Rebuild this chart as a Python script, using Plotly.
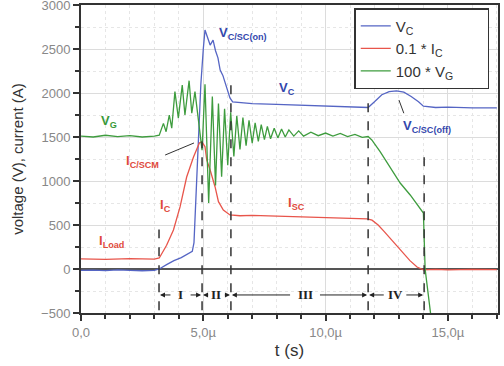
import plotly.graph_objects as go

# ---- data (time in microseconds) ----
t_vc = [0, 0.5, 1.0, 1.5, 2.0, 2.5, 3.0, 3.2, 3.5, 3.8, 4.1, 4.4, 4.55, 4.62, 4.7, 4.8, 4.9, 5.0, 5.07,
        5.15, 5.28, 5.4, 5.5, 5.6, 5.69, 5.8, 5.9, 6.0, 6.09, 6.2, 6.5, 7, 8, 9, 10, 11, 11.74,
        12.0, 12.3, 12.6, 12.9, 13.2, 13.5, 13.8, 14.0, 14.5, 15, 16, 17]
vc = [-15, -12, -18, -10, -15, -20, -15, 0, 50, 95, 130, 175, 200, 300, 800, 1500, 2100, 2500, 2716,
      2650, 2545, 2600, 2480, 2400, 2260, 2200, 2110, 2000, 1945, 1900, 1890, 1880, 1870, 1860, 1850, 1845, 1835,
      1900, 1980, 2015, 2025, 2010, 1960, 1900, 1850, 1835, 1840, 1830, 1832]

t_ic = [0, 1, 2, 3, 3.2, 3.5, 3.78, 4.05, 4.32, 4.6, 4.84, 4.94, 5.07, 5.14, 5.28, 5.48, 5.62, 5.82, 6.09,
        6.5, 7, 8, 9, 10, 11, 11.7, 11.9, 12.15, 12.4, 12.64, 12.9, 13.17, 13.45, 13.74, 14.0, 14.5, 15, 16, 17]
ic = [115, 110, 118, 112, 125, 270, 443, 705, 1045, 1273, 1432, 1447, 1390, 1240, 1125, 935, 765, 670, 614,
      605, 610, 600, 595, 585, 575, 570, 555, 500, 425, 352, 265, 182, 95, 23, -10, -5, -10, -5, -8]

t_vg = [0, 0.5, 1, 1.5, 2, 2.5, 3.0, 3.2, 3.37, 3.48, 3.61, 3.71, 3.84, 3.98, 4.14, 4.25, 4.42, 4.53, 4.66,
        4.95, 5.07, 5.22, 5.37, 5.5, 5.62, 5.75, 5.87, 6.0, 6.12, 6.25, 6.37, 6.5, 6.62, 6.75, 6.87, 7.0,
        7.12, 7.25, 7.37, 7.5, 7.62, 7.75, 7.9, 8.05, 8.2, 8.35, 8.5, 8.7, 8.9, 9.1, 9.4, 9.7, 10, 10.3,
        10.6, 10.9, 11.2, 11.5, 11.74, 11.89, 12.23, 12.64, 13.05, 13.46, 13.87, 14.0, 14.07, 14.3]
vg = [1510, 1500, 1520, 1505, 1515, 1500, 1510, 1520, 1655, 1560, 1750, 1600, 2015, 1715, 2090, 1750, 2140, 1770, 2015,
      1350, 2100, 750, 1960, 950, 1880, 1050, 1820, 1180, 1780, 1280, 1740, 1360, 1720, 1400, 1690, 1430,
      1660, 1450, 1640, 1470, 1620, 1480, 1600, 1490, 1590, 1500, 1580, 1510, 1570, 1510, 1555, 1515, 1545, 1510,
      1540, 1505, 1530, 1495, 1505, 1466, 1333, 1148, 977, 841, 693, 636, 0, -520]

phase_bounds = [3.19, 4.95, 6.13, 11.74, 14.03]
phase_tops = [450, 1450, 2150, 1950, 1330]
phase_names = ["I", "II", "III", "IV"]
phase_label_x = [4.07, 5.54, 9.16, 12.84]
phase_label_halfwidth = [0.35, 0.28, 0.55, 0.4]

BLUE = "#5565c4"
RED = "#e8554b"
GREEN = "#3e9c3e"
BLUE_T = "#3347ad"
RED_T = "#e04a3c"
GREEN_T = "#3a9a3a"
PAD = "\u00a0" * 7

fig = go.Figure()
fig.add_trace(go.Scatter(x=t_vc, y=vc, mode="lines", line=dict(color=BLUE, width=1.3), name="V<sub>C</sub>"))
fig.add_trace(go.Scatter(x=t_ic, y=ic, mode="lines", line=dict(color=RED, width=1.3), name="0.1 * I<sub>C</sub>"))
fig.add_trace(go.Scatter(x=t_vg, y=vg, mode="lines", line=dict(color=GREEN, width=1.3),
                         name="100 * V<sub>G</sub>" + PAD))

shapes = []
for xb, top in zip(phase_bounds, phase_tops):
    shapes.append(dict(type="line", xref="x", yref="y", x0=xb, x1=xb, y0=-470, y1=top,
                       line=dict(color="#333", width=1.5, dash="dash")))
# connector lines
shapes.append(dict(type="line", xref="x", yref="y", x0=3.44, y0=1295, x1=4.62, y1=1432,
                   line=dict(color="#333", width=1)))
shapes.append(dict(type="line", xref="x", yref="y", x0=13.0, y0=1920, x1=13.2, y1=1770,
                   line=dict(color="#333", width=1)))

anns = []
arrow_y = -295
for i, name in enumerate(phase_names):
    xc = phase_label_x[i]
    hw = phase_label_halfwidth[i]
    anns.append(dict(x=xc, y=arrow_y, xref="x", yref="y", text="<b>%s</b>" % name, showarrow=False,
                     font=dict(family="Liberation Serif, Times New Roman, serif", size=13, color="#222")))
    left = phase_bounds[i]
    right = phase_bounds[i + 1]
    anns.append(dict(x=left + 0.04, y=arrow_y, ax=xc - hw, ay=arrow_y, xref="x", yref="y", axref="x", ayref="y",
                     text="", showarrow=True, arrowhead=2, arrowsize=1, arrowwidth=1, arrowcolor="#222"))
    anns.append(dict(x=right - 0.04, y=arrow_y, ax=xc + hw, ay=arrow_y, xref="x", yref="y", axref="x", ayref="y",
                     text="", showarrow=True, arrowhead=2, arrowsize=1, arrowwidth=1, arrowcolor="#222"))

def lab(x, y, text, color, anchor="left"):
    anns.append(dict(x=x, y=y, xref="x", yref="y", text="<b>%s</b>" % text, showarrow=False, xanchor=anchor,
                     font=dict(family="Liberation Sans, Arial, sans-serif", size=13, color=color)))

lab(5.55, 2680, "V<sub>C/SC(on)</sub>", BLUE_T)
lab(0.75, 1680, "V<sub>G</sub>", GREEN_T)
lab(1.75, 1220, "I<sub>C/SCM</sub>", RED_T)
lab(3.15, 720, "I<sub>C</sub>", RED_T)
lab(0.65, 310, "I<sub>Load</sub>", RED_T)
lab(8.0, 2050, "V<sub>C</sub>", BLUE_T)
lab(8.4, 740, "I<sub>SC</sub>", RED_T)
lab(13.1, 1620, "V<sub>C/SC(off)</sub>", BLUE_T)

fig.update_layout(
    shapes=shapes,
    annotations=anns,
    width=504, height=366,
    margin=dict(l=81, r=6, t=5, b=53, autoexpand=False),
    paper_bgcolor="white", plot_bgcolor="white",
    font=dict(family="Liberation Sans, Arial, sans-serif", color="#333"),
    showlegend=True,
    legend=dict(x=0.979, y=0.99, xanchor="right", yanchor="top", bgcolor="white",
                bordercolor="#333", borderwidth=1.5, font=dict(size=15, color="#333"),
                tracegroupgap=0, itemwidth=30),
)
fig.update_xaxes(
    range=[0, 17.05], tickvals=[0, 5, 10, 15], ticktext=["0,0", "5,0µ", "10,0µ", "15,0µ"],
    ticks="outside", ticklen=6, tickwidth=1.5, tickcolor="#333",
    tickfont=dict(size=13, color="#888"), ticklabeloverflow="allow",
    showline=True, linecolor="#333", linewidth=2, mirror=True,
    showgrid=True, gridcolor="#dcdcdc", gridwidth=1,
    minor=dict(dtick=1, tick0=0, ticks="outside", ticklen=4, tickcolor="#333", showgrid=True,
               gridcolor="#e6e6e6", griddash="dot"),
    zeroline=False,
    title=dict(text="t (s)", font=dict(size=17, color="#333"), standoff=6),
)
fig.update_yaxes(
    range=[-500, 3000], tickvals=[-500, 0, 500, 1000, 1500, 2000, 2500, 3000],
    ticks="outside", ticklen=6, tickwidth=1.5, tickcolor="#333",
    tickfont=dict(size=13, color="#888"), ticklabeloverflow="allow",
    showline=True, linecolor="#333", linewidth=2, mirror=True,
    showgrid=True, gridcolor="#dcdcdc", gridwidth=1,
    minor=dict(dtick=250, tick0=0, ticks="outside", ticklen=4, tickcolor="#333", showgrid=True,
               gridcolor="#e6e6e6", griddash="dot"),
    zeroline=True, zerolinecolor="#555", zerolinewidth=1.5,
    title=dict(text="voltage (V), current (A)", font=dict(size=15, color="#333"), standoff=14),
)

fig.write_html("out.html", config={"displayModeBar": False},
               post_script="document.body.style.margin='0';document.body.style.overflow='hidden';")
